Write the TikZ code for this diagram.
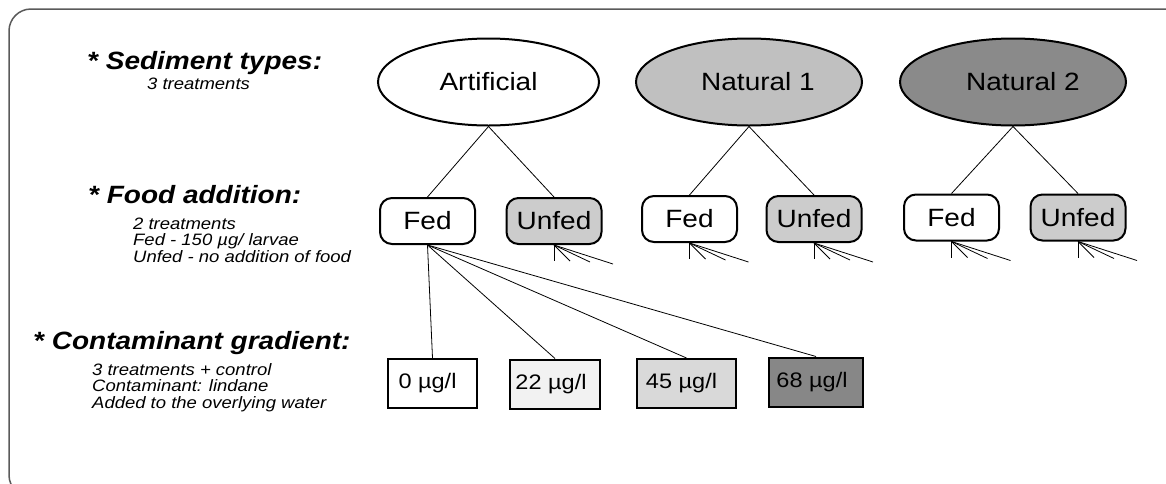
\documentclass[tikz,border=0pt]{standalone}
\usepackage{fontspec}
\setmainfont[FakeStretch=1.12]{Liberation Sans}
\usetikzlibrary{shapes.geometric}
\definecolor{natone}{RGB}{192,192,192}
\definecolor{nattwo}{RGB}{138,138,138}
\definecolor{unfedgray}{RGB}{204,204,204}
\definecolor{lowconc}{RGB}{242,242,242}
\definecolor{midconc}{RGB}{217,217,217}
\definecolor{highconc}{RGB}{135,135,135}
\definecolor{framegray}{RGB}{90,90,90}

\begin{document}
\begin{tikzpicture}[x=1pt,y=-1pt,
    sediment/.style={ellipse, draw, line width=2pt, minimum width=226pt, minimum height=87pt, inner sep=0pt, font=\fontsize{25}{30}\selectfont},
    foodbox/.style={draw, line width=2pt, rounded corners=12pt, minimum width=95pt, minimum height=46pt, inner sep=0pt, font=\fontsize{25}{30}\selectfont},
    concbox/.style={draw, line width=2pt, minimum height=49pt, inner sep=0pt, font=\fontsize{21}{25}\selectfont},
    heading/.style={anchor=base west, inner sep=0pt, font=\fontsize{25}{30}\selectfont\bfseries\itshape},
    detail/.style={anchor=base west, align=left, inner sep=0pt, font=\fontsize{16.5}{16.5}\selectfont\itshape},
    branch/.style={line width=0.8pt}]
        \useasboundingbox (0,0) rectangle (1166,483);
        \clip (0,0) rectangle (1166,483);
        \draw[framegray, line width=1.5pt, rounded corners=22pt] (9,9) rectangle (1190,497);

        % Left column (detail nodes sit on the baseline of their last line)
        \node[heading] (hsed) at (87,69) {* Sediment types:};
        \node[detail] (dsed) at (147,89) {3 treatments};
        \node[heading] (hfood) at (88,203) {* Food addition:};
        \node[detail] (dfood) at (133,262) {2 treatments\\ Fed - 150 µg/ larvae\\ Unfed - no addition of food};
        \node[heading] (hcont) at (33,349) {* Contaminant gradient:};
        \node[detail] (dcont) at (92,408) {3 treatments + control\\ Contaminant: lindane\\ Added to the overlying water};

        % Sediment types
        \node[sediment, minimum width=221pt] (art) at (488.5,82) {Artificial};
        \node[sediment, fill=natone] (nat1) at (749,82) {\hspace*{18pt}Natural 1};
        \node[sediment, fill=nattwo] (nat2) at (1013,82) {\hspace*{20pt}Natural 2};

        % Food addition
        \node[foodbox] (f1) at (427.5,221) {Fed};
        \node[foodbox, fill=unfedgray] (u1) at (554,221) {Unfed};
        \node[foodbox] (f2) at (689.5,219) {Fed};
        \node[foodbox, fill=unfedgray] (u2) at (814,219) {Unfed};
        \node[foodbox] (f3) at (951.5,217.5) {Fed};
        \node[foodbox, fill=unfedgray] (u3) at (1078,217.5) {Unfed};

        \draw[branch] (art.south) -- (f1.north);
        \draw[branch] (art.south) -- (u1.north);
        \draw[branch] (nat1.south) -- (f2.north);
        \draw[branch] (nat1.south) -- (u2.north);
        \draw[branch] (nat2.south) -- (f3.north);
        \draw[branch] (nat2.south) -- (u3.north);

        % Contaminant gradient
        \node[concbox, minimum width=89pt] (c0) at (432.5,383.5) {\hspace*{-10pt}\raisebox{-2pt}{0 µg/l}};
        \node[concbox, minimum width=90pt, fill=lowconc] (c22) at (555,384) {\hspace*{-8pt}\raisebox{4pt}{22 µg/l}};
        \node[concbox, minimum width=99pt, fill=midconc] (c45) at (686.5,383.5) {\hspace*{-10pt}\raisebox{-3pt}{45 µg/l}};
        \node[concbox, minimum width=94pt, fill=highconc] (c68) at (816,382) {\hspace*{-8pt}68 µg/l};

        \foreach \c in {c0,c22,c45,c68}
            \draw[branch] (f1.south) -- (\c.north);

        % stubs under the other boxes
        \foreach \b in {u1,f2,u2,f3,u3}
            \foreach \dx/\dy in {0/16,16/16,36/17,59/19}
                \draw[branch] (\b.south) -- ++(\dx,\dy);
\end{tikzpicture}
\end{document}
